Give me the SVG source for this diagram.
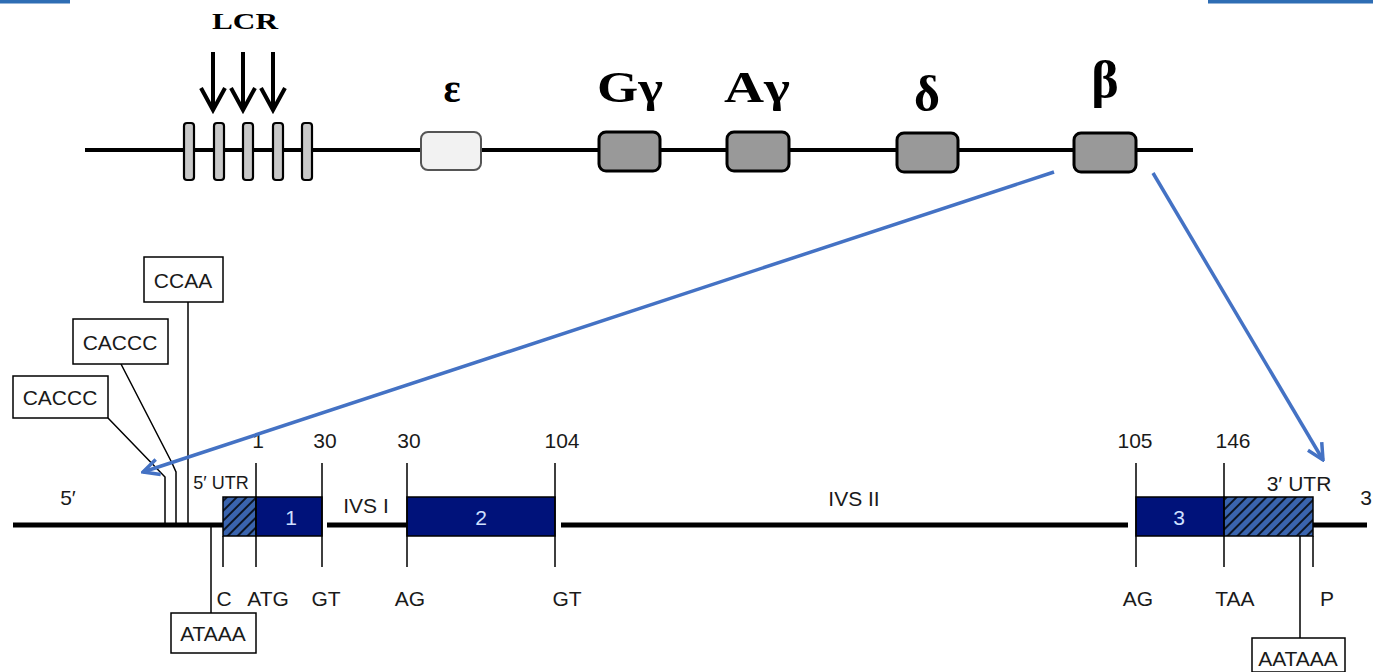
<svg xmlns="http://www.w3.org/2000/svg" width="1373" height="672" viewBox="0 0 1373 672">
  <style>
    .serif { font-family: "Liberation Serif", "DejaVu Serif", serif; font-weight: bold; fill: #000; text-anchor: middle; }
    .lbl { font-family: "Liberation Sans", Arial, sans-serif; font-size: 21px; fill: #1a1a1a; text-anchor: middle; }
    .small { font-size: 18px; }
    .exnum { font-family: "Liberation Sans", Arial, sans-serif; font-size: 21px; fill: #cfe0ff; text-anchor: middle; }
    .chrom { stroke: #000; stroke-width: 4; fill: none; }
    .dna { stroke: #000; stroke-width: 5; fill: none; }
    .tick { stroke: #000; stroke-width: 1.5; fill: none; }
    .lcrbar { fill: #c8c8c8; stroke: #000; stroke-width: 2.2; }
    .gene { fill: #999; stroke: #000; stroke-width: 3; }
    .down { stroke: #000; stroke-width: 4; fill: none; }
    .exon { fill: #00127a; stroke: #000; stroke-width: 1.5; }
    .utr { fill: url(#hatch); stroke: #000; stroke-width: 1.5; }
    .elem { fill: #fff; stroke: #000; stroke-width: 1.5; }
    .zoom { stroke: #4472c4; stroke-width: 3.5; fill: none; marker-end: url(#openArrow); }
  </style>
  <defs>
    <pattern id="hatch" patternUnits="userSpaceOnUse" width="7" height="7" patternTransform="rotate(45)">
      <rect width="7" height="7" fill="#3a64ae"/>
      <line x1="1" y1="0" x2="1" y2="7" stroke="#000" stroke-width="1.6"/>
    </pattern>
    <marker id="openArrow" viewBox="0 0 20 20" markerUnits="userSpaceOnUse" markerWidth="20" markerHeight="20" refX="18" refY="10" orient="auto">
      <path d="M2,2 L18,10 L2,18" fill="none" stroke="#4472c4" stroke-width="3.5"/>
    </marker>
  </defs>

  <rect width="1373" height="672" fill="#fff"/>

  <!-- title bars at the top corners -->
  <rect x="0" y="0" width="70" height="3.5" fill="#2e6db4"/>
  <rect x="1208" y="0" width="165" height="3.5" fill="#2e6db4"/>

  <!-- beta-globin locus -->
  <line class="chrom" x1="85" y1="150" x2="1193" y2="150"/>

  <g id="lcr">
    <text class="serif" x="245" y="29" font-size="24" textLength="66" lengthAdjust="spacingAndGlyphs">LCR</text>
    <path class="down" d="M213,52 V108 M201,88 L213,110 L225,88"/>
    <path class="down" d="M243,52 V108 M231,88 L243,110 L255,88"/>
    <path class="down" d="M273,52 V108 M261,88 L273,110 L285,88"/>
    <rect class="lcrbar" x="184" y="123" width="10" height="57" rx="3"/>
    <rect class="lcrbar" x="214" y="123" width="10" height="57" rx="3"/>
    <rect class="lcrbar" x="243" y="123" width="10" height="57" rx="3"/>
    <rect class="lcrbar" x="273" y="123" width="10" height="57" rx="3"/>
    <rect class="lcrbar" x="302" y="123" width="10" height="57" rx="3"/>
  </g>

  <g id="gene-epsilon">
    <rect x="421" y="132" width="60" height="38" rx="7" fill="#f2f2f2" stroke="#555" stroke-width="2"/>
    <text class="serif" x="452" y="102" font-size="40">ε</text>
  </g>
  <g id="gene-Ggamma">
    <rect class="gene" x="599" y="132" width="61" height="39" rx="7"/>
    <text class="serif" x="630" y="102" font-size="44" textLength="66" lengthAdjust="spacingAndGlyphs">Gγ</text>
  </g>
  <g id="gene-Agamma">
    <rect class="gene" x="727" y="132" width="62" height="39" rx="7"/>
    <text class="serif" x="757" y="102" font-size="44" textLength="66" lengthAdjust="spacingAndGlyphs">Aγ</text>
  </g>
  <g id="gene-delta">
    <rect class="gene" x="897" y="133" width="61" height="39" rx="7"/>
    <text class="serif" x="927" y="111" font-size="50">δ</text>
  </g>
  <g id="gene-beta">
    <rect class="gene" x="1074" y="133" width="62" height="39" rx="7"/>
    <text class="serif" x="1105" y="97" font-size="52">β</text>
  </g>

  <!-- beta-globin gene structure -->
  <g id="beta-gene-backbone">
    <line class="dna" x1="13" y1="525" x2="223" y2="525"/>
    <line class="dna" x1="327" y1="525" x2="407" y2="525"/>
    <line class="dna" x1="561" y1="525" x2="1128" y2="525"/>
    <line class="dna" x1="1313" y1="525" x2="1367" y2="525"/>
    <text class="lbl" x="68" y="505">5′</text>
    <text class="lbl" x="1366" y="505" text-anchor="start">3</text>
    <text class="lbl" x="366" y="513">IVS I</text>
    <text class="lbl" x="854" y="506">IVS II</text>
  </g>

  <g id="exon-1">
    <rect class="utr" x="223" y="497" width="33" height="39"/>
    <rect class="exon" x="256" y="497" width="66" height="39"/>
    <text class="exnum" x="291" y="525">1</text>
    <text class="lbl small" x="221" y="489" font-size="17">5′ UTR</text>
  </g>
  <g id="exon-2">
    <rect class="exon" x="407" y="497" width="148" height="39"/>
    <text class="exnum" x="481" y="525">2</text>
  </g>
  <g id="exon-3">
    <rect class="exon" x="1136" y="497" width="88" height="39"/>
    <rect class="utr" x="1224" y="497" width="89" height="39"/>
    <text class="exnum" x="1179" y="525">3</text>
    <text class="lbl" x="1299" y="491">3′ UTR</text>
  </g>

  <!-- boundary ticks with positions and junction sequences -->
  <g id="boundaries">
    <path class="tick" d="M223,536 V567 M256,463 V567 M322,463 V567 M407,463 V567 M555,463 V567 M1136,463 V567 M1224,463 V567 M1313,536 V567"/>
    <text class="lbl" x="258" y="448">1</text>
    <text class="lbl" x="325" y="448">30</text>
    <text class="lbl" x="409" y="448">30</text>
    <text class="lbl" x="562" y="448">104</text>
    <text class="lbl" x="1135" y="448">105</text>
    <text class="lbl" x="1233" y="448">146</text>
    <text class="lbl" x="224" y="606">C</text>
    <text class="lbl" x="268" y="606">ATG</text>
    <text class="lbl" x="326" y="606">GT</text>
    <text class="lbl" x="410" y="606">AG</text>
    <text class="lbl" x="567" y="606">GT</text>
    <text class="lbl" x="1138" y="606">AG</text>
    <text class="lbl" x="1235" y="606">TAA</text>
    <text class="lbl" x="1327" y="606">P</text>
  </g>

  <!-- promoter and polyadenylation elements -->
  <g id="elem-caccc-distal">
    <path class="tick" d="M108,418 L165,477 V525"/>
    <rect class="elem" x="13" y="376" width="95" height="42"/>
    <text class="lbl" x="60" y="405" font-size="22">CACCC</text>
  </g>
  <g id="elem-caccc-proximal">
    <path class="tick" d="M121,364 L172,463 L176,472 V525"/>
    <rect class="elem" x="73" y="319" width="95" height="45"/>
    <text class="lbl" x="120" y="350" font-size="22">CACCC</text>
  </g>
  <g id="elem-ccaa">
    <path class="tick" d="M188,302 V525"/>
    <rect class="elem" x="144" y="257" width="79" height="45"/>
    <text class="lbl" x="183" y="288" font-size="22">CCAA</text>
  </g>
  <g id="elem-ataaa">
    <path class="tick" d="M211,525 V613"/>
    <rect class="elem" x="171" y="613" width="85" height="40"/>
    <text class="lbl" x="213" y="641">ATAAA</text>
  </g>
  <g id="elem-aataaa">
    <path class="tick" d="M1300,536 V638"/>
    <rect class="elem" x="1252" y="638" width="93" height="34"/>
    <text class="lbl" x="1298" y="666">AATAAA</text>
  </g>

  <!-- expansion of the beta gene -->
  <g id="connectors">
    <line class="zoom" x1="1054" y1="172" x2="143" y2="472"/>
    <line class="zoom" x1="1153" y1="173" x2="1323" y2="460"/>
  </g>
</svg>
